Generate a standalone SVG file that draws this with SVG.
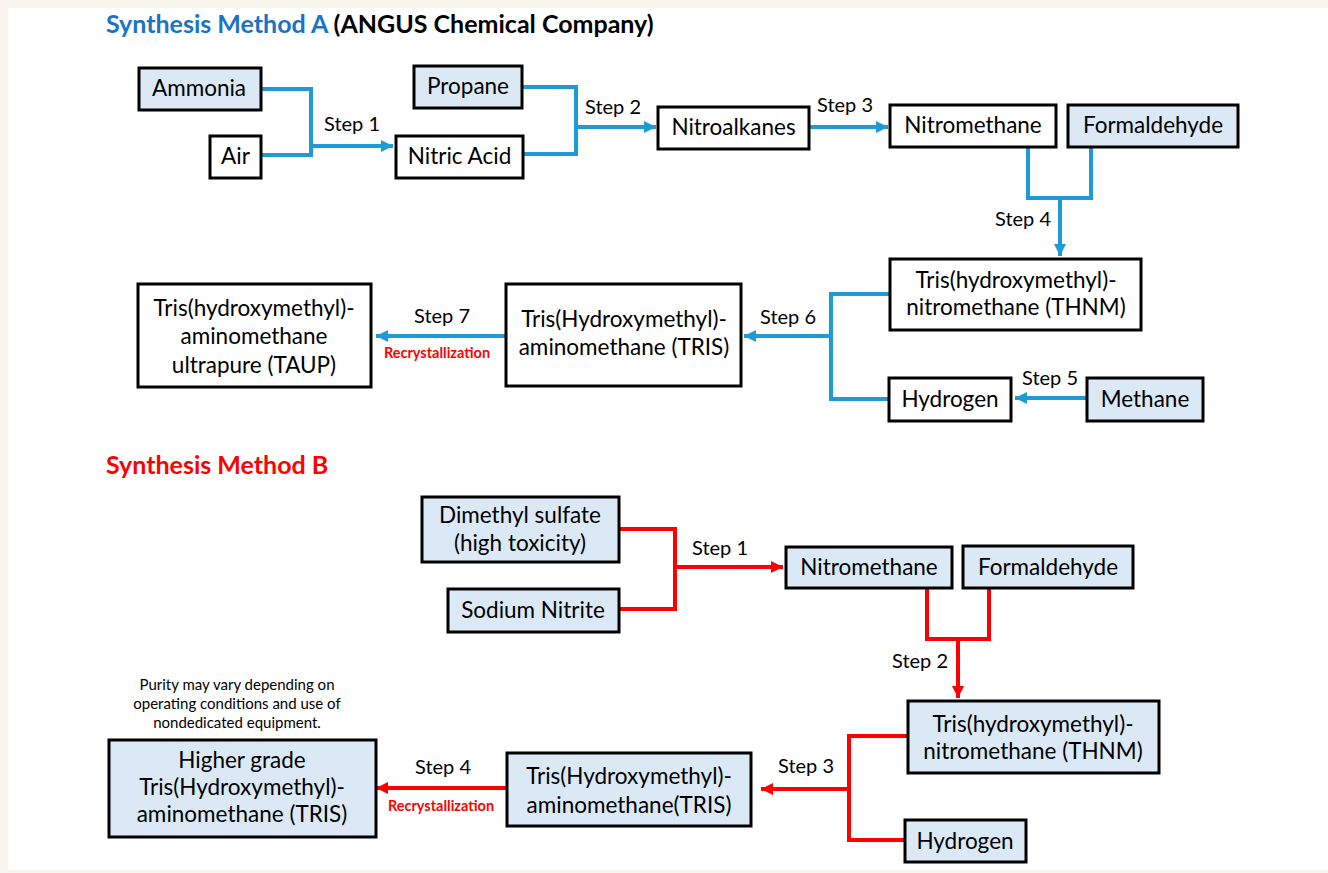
<svg xmlns="http://www.w3.org/2000/svg" width="1328" height="873" viewBox="0 0 1328 873">
<defs>
<style>
.bx{stroke:#000;stroke-width:3}
.w{fill:#fff}
.lb{fill:#dbe9f6}
.t{font-family:Lato,"Liberation Sans",sans-serif;font-size:22.5px;fill:#000;text-anchor:middle}
.s{font-family:Lato,"Liberation Sans",sans-serif;font-size:20px;fill:#000;text-anchor:middle}
.r{font-family:Lato,"Liberation Sans",sans-serif;font-size:14.5px;font-weight:bold;fill:#ff0000;text-anchor:middle}
.n{font-family:Lato,"Liberation Sans",sans-serif;font-size:15px;fill:#000;text-anchor:middle}
.ttl{font-family:Lato,"Liberation Sans",sans-serif;font-size:25px;font-weight:bold}
.cb{fill:none;stroke:#1e9bd7;stroke-width:4}
.cr{fill:none;stroke:#ff0000;stroke-width:4}
</style>
<marker id="ab" markerUnits="userSpaceOnUse" markerWidth="14" markerHeight="14" refX="12" refY="6" orient="auto"><path d="M0,0 L12,6 L0,12 Z" fill="#1e9bd7"/></marker>
<marker id="ar" markerUnits="userSpaceOnUse" markerWidth="14" markerHeight="14" refX="12" refY="6" orient="auto"><path d="M0,0 L12,6 L0,12 Z" fill="#ff0000"/></marker>
</defs>
<rect x="0" y="0" width="1328" height="873" fill="#f8f5ec"/>
<rect x="8" y="8" width="1320" height="862" fill="#fff"/>

<text class="ttl" x="106" y="33"><tspan fill="#1a73c4">Synthesis Method A</tspan><tspan fill="#000"> (ANGUS Chemical Company)</tspan></text>
<text class="ttl" x="106" y="474" fill="#ff0000">Synthesis Method B</text>

<g id="connectors-a">
<path class="cb" d="M261,89 H311 V155 H261"/>
<path class="cb" d="M311,146 H393" marker-end="url(#ab)"/>
<path class="cb" d="M522,87 H576 V154 H523"/>
<path class="cb" d="M576,127 H656" marker-end="url(#ab)"/>
<path class="cb" d="M810,127 H888" marker-end="url(#ab)"/>
<path class="cb" d="M1028,148 V198 H1091 V148"/>
<path class="cb" d="M1060,198 V256" marker-end="url(#ab)"/>
<path class="cb" d="M1087,398 H1015" marker-end="url(#ab)"/>
<path class="cb" d="M890,294 H831 V399 H889"/>
<path class="cb" d="M831,336 H744" marker-end="url(#ab)"/>
<path class="cb" d="M506,336 H376" marker-end="url(#ab)"/>
<text class="s" x="352" y="131">Step 1</text>
<text class="s" x="613" y="114">Step 2</text>
<text class="s" x="845" y="112">Step 3</text>
<text class="s" x="1023" y="226">Step 4</text>
<text class="s" x="1050" y="385">Step 5</text>
<text class="s" x="788" y="324">Step 6</text>
<text class="s" x="442" y="323">Step 7</text>
<text class="r" x="437" y="358">Recrystallization</text>
</g>

<g id="connectors-b">
<path class="cr" d="M619,529 H675 V609 H619"/>
<path class="cr" d="M675,567 H783" marker-end="url(#ar)"/>
<path class="cr" d="M927,588 V639 H989 V588"/>
<path class="cr" d="M958,639 V698" marker-end="url(#ar)"/>
<path class="cr" d="M908,736 H849 V840 H905"/>
<path class="cr" d="M849,789 H761" marker-end="url(#ar)"/>
<path class="cr" d="M507,788 H376" marker-end="url(#ar)"/>
<text class="s" x="720" y="555">Step 1</text>
<text class="s" x="920" y="668">Step 2</text>
<text class="s" x="806" y="773">Step 3</text>
<text class="s" x="443" y="774">Step 4</text>
<text class="r" x="441" y="811">Recrystallization</text>
</g>

<g id="ammonia"><rect class="bx lb" x="139" y="68" width="122" height="42"/><text class="t" x="199" y="96">Ammonia</text></g>
<g id="air"><rect class="bx w" x="210" y="136" width="51" height="42"/><text class="t" x="235.5" y="164">Air</text></g>
<g id="propane"><rect class="bx lb" x="414" y="66" width="108" height="42"/><text class="t" x="468" y="94">Propane</text></g>
<g id="nitric-acid"><rect class="bx w" x="396" y="136" width="127" height="42"/><text class="t" x="459.5" y="164">Nitric Acid</text></g>
<g id="nitroalkanes"><rect class="bx w" x="658" y="107" width="151" height="42"/><text class="t" x="733.5" y="135">Nitroalkanes</text></g>
<g id="nitromethane-a"><rect class="bx w" x="890" y="105" width="166" height="42"/><text class="t" x="973" y="133">Nitromethane</text></g>
<g id="formaldehyde-a"><rect class="bx lb" x="1068" y="105" width="170" height="42"/><text class="t" x="1153" y="133">Formaldehyde</text></g>
<g id="thnm-a"><rect class="bx w" x="890" y="259" width="251" height="71"/><text class="t" x="1016" y="288">Tris(hydroxymethyl)-</text><text class="t" x="1016" y="315">nitromethane (THNM)</text></g>
<g id="hydrogen-a"><rect class="bx w" x="889" y="378" width="122" height="43"/><text class="t" x="950" y="407">Hydrogen</text></g>
<g id="methane"><rect class="bx lb" x="1087" y="378" width="116" height="43"/><text class="t" x="1145" y="407">Methane</text></g>
<g id="tris-a"><rect class="bx w" x="506" y="284" width="235" height="102"/><text class="t" x="624" y="327">Tris(Hydroxymethyl)-</text><text class="t" x="624" y="355">aminomethane (TRIS)</text></g>
<g id="taup"><rect class="bx w" x="138" y="284" width="233" height="103"/><text class="t" x="254" y="316">Tris(hydroxymethyl)-</text><text class="t" x="254" y="344">aminomethane</text><text class="t" x="254" y="373">ultrapure (TAUP)</text></g>

<g id="dimethyl-sulfate"><rect class="bx lb" x="422" y="497" width="197" height="65"/><text class="t" x="520" y="523">Dimethyl sulfate</text><text class="t" x="520" y="551">(high toxicity)</text></g>
<g id="sodium-nitrite"><rect class="bx lb" x="448" y="589" width="171" height="43"/><text class="t" x="533" y="618">Sodium Nitrite</text></g>
<g id="nitromethane-b"><rect class="bx lb" x="786" y="547" width="166" height="41"/><text class="t" x="869" y="575">Nitromethane</text></g>
<g id="formaldehyde-b"><rect class="bx lb" x="963" y="546" width="170" height="42"/><text class="t" x="1048" y="575">Formaldehyde</text></g>
<g id="thnm-b"><rect class="bx lb" x="908" y="701" width="251" height="72"/><text class="t" x="1033" y="732">Tris(hydroxymethyl)-</text><text class="t" x="1033" y="759">nitromethane (THNM)</text></g>
<g id="hydrogen-b"><rect class="bx lb" x="905" y="820" width="121" height="42"/><text class="t" x="965" y="849">Hydrogen</text></g>
<g id="tris-b"><rect class="bx lb" x="507" y="753" width="244" height="73"/><text class="t" x="629" y="784">Tris(Hydroxymethyl)-</text><text class="t" x="629" y="813">aminomethane(TRIS)</text></g>
<g id="higher-grade"><rect class="bx lb" x="109" y="740" width="267" height="97"/><text class="t" x="242" y="768">Higher grade</text><text class="t" x="242" y="795">Tris(Hydroxymethyl)-</text><text class="t" x="242" y="822">aminomethane (TRIS)</text></g>
<g id="note"><text class="n" x="237" y="690">Purity may vary depending on</text><text class="n" x="237" y="709">operating conditions and use of</text><text class="n" x="237" y="728">nondedicated equipment.</text></g>
</svg>
